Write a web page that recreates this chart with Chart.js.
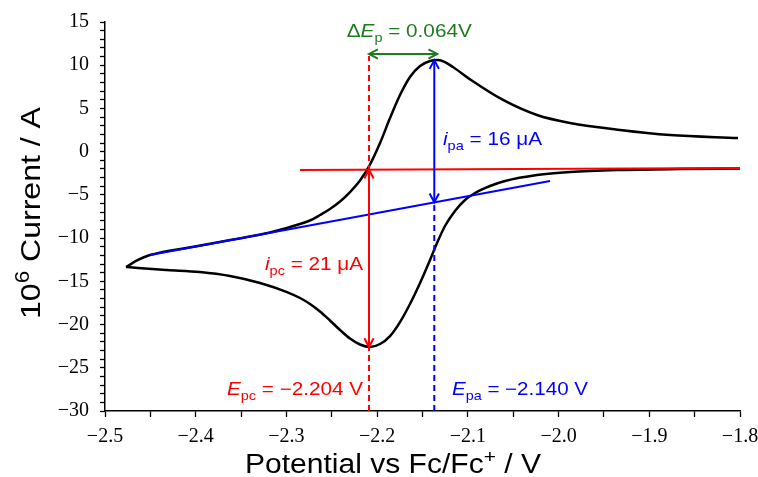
<!DOCTYPE html>
<html><head><meta charset="utf-8">
<script src="https://cdn.jsdelivr.net/npm/chart.js@4/dist/chart.umd.min.js"></script>
<style>html,body{margin:0;padding:0;background:#fff}</style>
</head><body>
<canvas id="c" width="758" height="477"></canvas>
<script>
// ---- data ----
// cathodic (lower) branch, listed left -> right
const cathPotential = [-2.4768,-2.4636,-2.4317,-2.3953,-2.3622,-2.3291,-2.2994,-2.2850,-2.2740,-2.2630,-2.2520,-2.2409,-2.2299,-2.2189,-2.2079,-2.1968,-2.1858,-2.1748,-2.1638,-2.1527,-2.1417,-2.1340,-2.1252,-2.1142,-2.1031,-2.0921,-2.0756,-2.0590,-2.0238,-1.9874,-1.9323,-1.8661,-1.8000];
const cathCurrent   = [-13.34,-13.46,-13.69,-13.92,-14.38,-15.19,-16.24,-16.93,-17.62,-18.49,-19.53,-20.63,-21.62,-22.31,-22.60,-22.25,-21.33,-19.71,-17.62,-15.19,-12.53,-10.57,-8.60,-6.86,-5.59,-4.78,-3.97,-3.39,-2.70,-2.35,-2.12,-2.01,-1.95];
// anodic (upper) branch, listed left -> right
const anodPotential = [-2.4768,-2.4636,-2.4504,-2.4008,-2.3589,-2.3182,-2.2851,-2.2707,-2.2630,-2.2520,-2.2409,-2.2299,-2.2189,-2.2079,-2.1968,-2.1858,-2.1748,-2.1638,-2.1527,-2.1417,-2.1329,-2.1252,-2.1164,-2.0965,-2.0612,-2.0238,-1.9874,-1.9323,-1.8771,-1.8022];
const anodCurrent   = [-13.34,-12.53,-11.96,-10.97,-10.16,-9.35,-8.37,-7.79,-7.33,-6.63,-5.77,-4.67,-3.34,-1.49,1.00,3.89,6.55,8.64,9.91,10.49,10.60,10.37,9.79,8.29,5.98,4.24,3.32,2.51,1.93,1.58];
// baselines
const redBaseX = [-2.285, -1.794];
const redBaseY = [-2.12, -1.89];
const blueBaseX = [-2.4504, -2.0094];
const blueBaseY = [-11.96, -3.39];
// peak markers as drawn (potential of the vertical lines, peak currents)
const markerE = { pc: -2.209, pa: -2.137 };
const peakI = { pc: -22.6, pa: 10.6 };
const dEpArrowY = 11.3;       // level of the ΔEp arrow
const dashTop = 11.07;        // top of the red dashed line
const yRange = [-30, 15];
const xRange = [-2.5, -1.8];
// label texts
const labelDeltaEp = ' = 0.064V';
const labelIpa = ' = 16 \u03bcA';
const labelIpc = ' = 21 \u03bcA';
const labelEpc = ' = \u22122.204 V';
const labelEpa = ' = \u22122.140 V';

// ---- helpers ----
const lerpLine = (xs, ys, v) => ys[0] + (ys[1]-ys[0]) * (v - xs[0]) / (xs[1]-xs[0]);
const redAtPc = lerpLine(redBaseX, redBaseY, markerE.pc);
const blueAtPa = lerpLine(blueBaseX, blueBaseY, markerE.pa);
const pts = (xs, ys) => xs.map((v,i)=>({x:v, y:ys[i]}));
const fmtNum = (v, d) => (v < 0 ? '\u2212' : '') + Math.abs(v).toFixed(d);

const RED = '#ff0000', BLUE = '#0000ff', GREEN = '#1e7b1e';
const SANS = '"Liberation Sans", Arial, sans-serif';

function arrowHead(ctx, x, y, ang, len) {
  const a = Math.PI/6.5;
  ctx.beginPath();
  ctx.moveTo(x - len*Math.cos(ang - a), y - len*Math.sin(ang - a));
  ctx.lineTo(x, y);
  ctx.lineTo(x - len*Math.cos(ang + a), y - len*Math.sin(ang + a));
  ctx.stroke();
}
function dblArrow(ctx, x1, y1, x2, y2, color) {
  ctx.save();
  ctx.strokeStyle = color; ctx.lineWidth = 2; ctx.lineCap = 'butt';
  ctx.beginPath(); ctx.moveTo(x1,y1); ctx.lineTo(x2,y2); ctx.stroke();
  const ang = Math.atan2(y2-y1, x2-x1);
  arrowHead(ctx, x2, y2, ang, 10);
  arrowHead(ctx, x1, y1, ang + Math.PI, 10);
  ctx.restore();
}
function rich(ctx, segs, x, y, o) {
  const parts = segs.map(s => {
    const sz = (s.sub || s.sup) ? o.size*0.7 : o.size;
    const font = (s.i ? 'italic ' : '') + sz + 'px ' + SANS;
    ctx.font = font;
    return { t: s.t, font, w: ctx.measureText(s.t).width,
             dy: s.sub ? o.size*0.25 : s.sup ? -o.size*0.38 : 0 };
  });
  const total = parts.reduce((a,p)=>a+p.w, 0);
  const sx = o.width ? o.width/total : 1;
  ctx.save();
  ctx.translate(x, y);
  if (o.rotate) ctx.rotate(-Math.PI/2);
  ctx.scale(sx, 1);
  let cx = o.align === 'center' ? -total/2 : o.align === 'right' ? -total : 0;
  ctx.fillStyle = o.color; ctx.textAlign = 'left'; ctx.textBaseline = 'alphabetic';
  for (const p of parts) { ctx.font = p.font; ctx.fillText(p.t, cx, p.dy); cx += p.w; }
  ctx.restore();
}

const annot = {
  id: 'annot',
  afterDatasetsDraw(chart) {
    const { ctx, scales: { x, y } } = chart;
    const X = v => x.getPixelForValue(v), Y = v => y.getPixelForValue(v);
    dblArrow(ctx, X(markerE.pc), Y(redAtPc), X(markerE.pc), Y(peakI.pc), RED);
    dblArrow(ctx, X(markerE.pa), Y(peakI.pa), X(markerE.pa), Y(blueAtPa), BLUE);
    dblArrow(ctx, X(markerE.pc), Y(dEpArrowY), X(markerE.pa) + 3, Y(dEpArrowY), GREEN);

    rich(ctx, [{t:'\u0394'},{t:'E',i:1},{t:'p',sub:1},{t:labelDeltaEp}],
         X(-2.1646), Y(13.26), {size:18, color:GREEN, align:'center', width:125});
    rich(ctx, [{t:'i',i:1},{t:'pa',sub:1},{t:labelIpa}],
         X(-2.1274), Y(0.77), {size:18, color:BLUE, align:'left', width:99});
    rich(ctx, [{t:'i',i:1},{t:'pc',sub:1},{t:labelIpc}],
         X(-2.3236), Y(-13.69), {size:18, color:RED, align:'left', width:98});
    rich(ctx, [{t:'E',i:1},{t:'pc',sub:1},{t:labelEpc}],
         X(-2.2156), Y(-28.15), {size:18, color:RED, align:'right', width:136});
    rich(ctx, [{t:'E',i:1},{t:'pa',sub:1},{t:labelEpa}],
         X(-2.1175), Y(-28.15), {size:18, color:BLUE, align:'left', width:136});
  },
  afterDraw(chart) {
    const ctx = chart.ctx;
    rich(ctx, [{t:'Potential vs Fc/Fc'},{t:'+',sup:1},{t:' / V'}], 393, 473,
         {size:27, color:'#000', align:'center', width:296});
    rich(ctx, [{t:'10'},{t:'6',sup:1},{t:' Current / A'}], 40, 213,
         {size:28, color:'#000', align:'center', width:212, rotate:true});
  }
};

const line = (xs, ys, color, width, extra) => Object.assign({
  data: pts(xs, ys), showLine: true, borderColor: color, borderWidth: width, pointRadius: 0
}, extra || {});

new Chart(document.getElementById('c'), {
  type: 'scatter',
  data: {
    datasets: [
      line(redBaseX, redBaseY, RED, 2, { order: 1 }),
      line(blueBaseX, blueBaseY, BLUE, 2, { order: 1 }),
      line([markerE.pc, markerE.pc], [yRange[0], dashTop], RED, 2, { borderDash: [6,4], order: 2 }),
      line([markerE.pa, markerE.pa], [yRange[0], blueAtPa], BLUE, 2, { borderDash: [6,4], order: 2 }),
      line(cathPotential, cathCurrent, '#000', 2.5, { cubicInterpolationMode: 'monotone', order: 5 }),
      line(anodPotential, anodCurrent, '#000', 2.5, { cubicInterpolationMode: 'monotone', order: 5 })
    ]
  },
  options: {
    responsive: false, animation: false, devicePixelRatio: 1,
    layout: { padding: { left: 0, top: 22, right: 18, bottom: 0 } },
    plugins: { legend: { display: false }, tooltip: { enabled: false } },
    scales: {
      x: {
        type: 'linear', min: xRange[0], max: xRange[1],
        afterFit(s) { s.height = 66; s.paddingRight = 0; s.paddingLeft = 0; },
        grid: { drawOnChartArea: false, drawTicks: true, tickLength: 6, tickColor: '#000', tickWidth: 1.3 },
        border: { display: true, color: '#000', width: 1.5 },
        ticks: {
          stepSize: 0.05, autoSkip: false, maxRotation: 0, color: '#000', padding: 8,
          font: { family: '"Liberation Serif", "Times New Roman", serif', size: 20 },
          callback: v => Math.abs(v*10 - Math.round(v*10)) < 1e-6 ? fmtNum(v, 1) : ''
        }
      },
      y: {
        min: yRange[0], max: yRange[1],
        afterFit(s) { s.width = 105; s.paddingTop = 0; s.paddingBottom = 0; },
        grid: { drawOnChartArea: false, drawTicks: true, tickLength: 5, tickColor: '#000', tickWidth: 1.3 },
        border: { display: true, color: '#000', width: 1.5 },
        ticks: {
          stepSize: 1, autoSkip: false, color: '#000', padding: 11,
          font: { family: '"Liberation Serif", "Times New Roman", serif', size: 20 },
          callback: v => (Math.round(v) % 5 === 0) ? fmtNum(v, 0) : ''
        }
      }
    }
  },
  plugins: [annot]
});
</script>
</body></html>
